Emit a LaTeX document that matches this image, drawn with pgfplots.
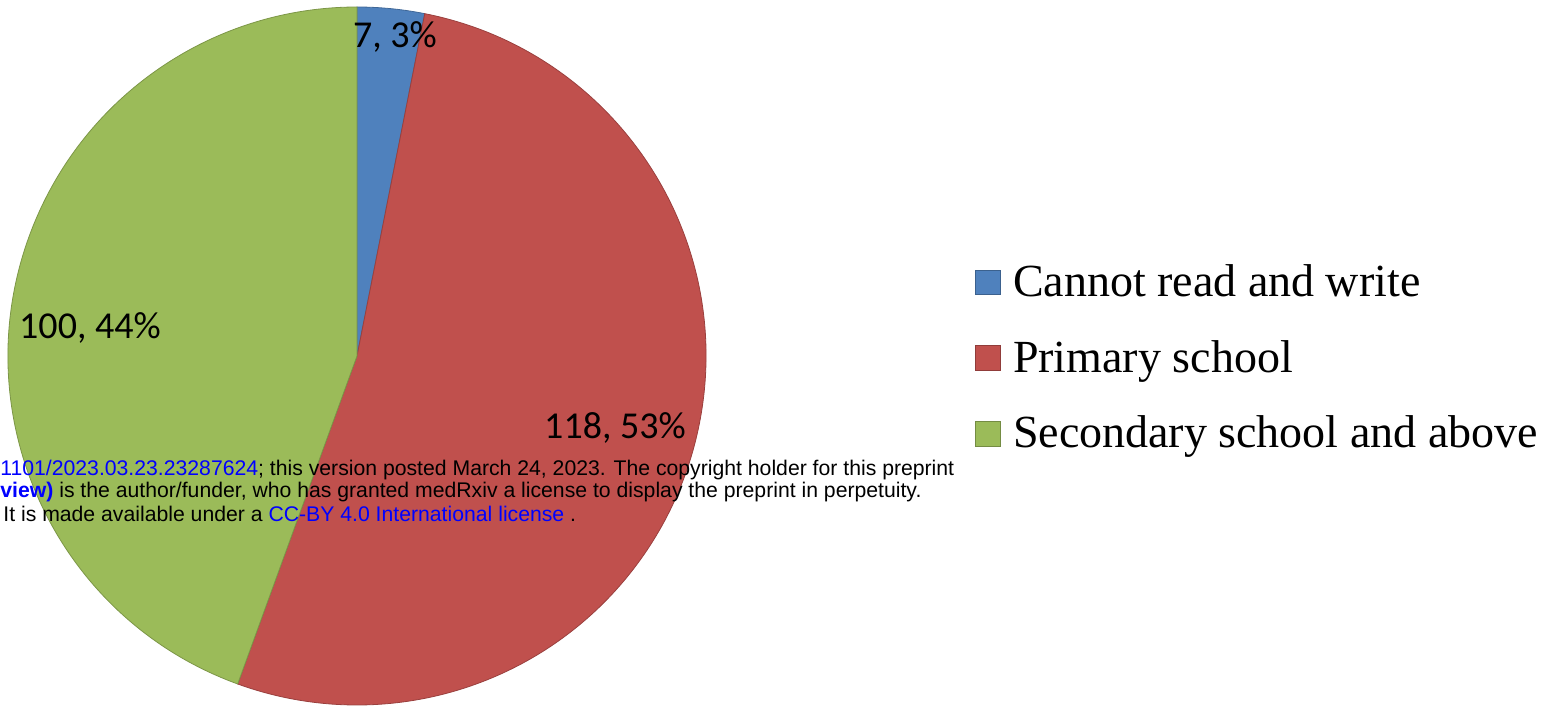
\documentclass[border=0pt]{standalone}
\usepackage{pgfplots}
\usepackage{pgfplotstable}
\pgfplotsset{compat=1.18}
\usepackage{fontspec}
\setmainfont{Liberation Serif}
\newfontfamily\calibri{Carlito}
\newfontfamily\arial{Liberation Sans}

\definecolor{cblue}{HTML}{4F81BD}
\definecolor{cred}{HTML}{C0504D}
\definecolor{cgreen}{HTML}{9BBB59}
\definecolor{wblue}{HTML}{0000FF}

% education level, counts
\pgfplotstableread{
level value
{Cannot read and write} 7
{Primary school} 118
{Secondary school and above} 100
}\edudata

\begin{document}
\begin{tikzpicture}
\pgfplotstablegetelem{0}{value}\of\edudata \let\va\pgfplotsretval
\pgfplotstablegetelem{1}{value}\of\edudata \let\vb\pgfplotsretval
\pgfplotstablegetelem{2}{value}\of\edudata \let\vc\pgfplotsretval
\pgfmathsetmacro\tot{\va+\vb+\vc}
\pgfmathsetmacro\angA{90-\va/\tot*360}
\pgfmathsetmacro\angB{\angA-\vb/\tot*360}
\def\R{174.5pt}
\begin{axis}[
    scale only axis,
    width=772.5pt, height=354pt,
    xmin=0, xmax=1545, ymin=0, ymax=708,
    hide axis, clip=false,
    legend style={at={(axis cs:975,350)}, anchor=west, draw=none, fill=none,
        font=\fontsize{23}{27}\selectfont, row sep=16.3pt,
        inner sep=0pt, cells={anchor=west},
        nodes={inner xsep=6pt}},
    legend cell align=left,
]
\addlegendimage{legend image code/.code={\filldraw[fill=cblue,draw=cblue!75!black,line width=0.4pt] (0pt,-6.2pt) rectangle (12.4pt,6.2pt);}}
\addlegendentry{Cannot read and write}
\addlegendimage{legend image code/.code={\filldraw[fill=cred,draw=cred!75!black,line width=0.4pt] (0pt,-6.2pt) rectangle (12.4pt,6.2pt);}}
\addlegendentry{Primary school}
\addlegendimage{legend image code/.code={\filldraw[fill=cgreen,draw=cgreen!75!black,line width=0.4pt] (0pt,-6.2pt) rectangle (12.4pt,6.2pt);}}
\addlegendentry{Secondary school and above}

\filldraw[fill=cblue, draw=cblue!80!black, line width=0.4pt]
  (axis cs:357,352) -- +(90:\R) arc[start angle=90, end angle=\angA, radius=\R] -- cycle;
\filldraw[fill=cred, draw=cred!80!black, line width=0.4pt]
  (axis cs:357,352) -- +(\angA:\R) arc[start angle=\angA, end angle=\angB, radius=\R] -- cycle;
\filldraw[fill=cgreen, draw=cgreen!80!black, line width=0.4pt]
  (axis cs:357,352) -- +(\angB:\R) arc[start angle=\angB, end angle=-270, radius=\R] -- cycle;

\node[font=\calibri\fontsize{19}{22}\selectfont] at (axis cs:395,671) {7, 3\%};
\node[font=\calibri\fontsize{19}{22}\selectfont] at (axis cs:615,280) {118, 53\%};
\node[font=\calibri\fontsize{19}{22}\selectfont] at (axis cs:90,380) {100, 44\%};

% preprint notice laid over the figure
\node[anchor=west, inner sep=0pt, font=\arial\fontsize{10.6}{12}\selectfont] at (axis cs:0,238)
  {\textcolor{wblue}{1101/2023.03.23.23287624}; this version posted March 24, 2023. The copyright holder for this preprint};
\node[anchor=west, inner sep=0pt, font=\arial\fontsize{10.6}{12}\selectfont] at (axis cs:0,216)
  {\textcolor{wblue}{\bfseries view)} is the author/funder, who has granted medRxiv a license to display the preprint in perpetuity.};
\node[anchor=west, inner sep=0pt, font=\arial\fontsize{10.6}{12}\selectfont] at (axis cs:3,194)
  {It is made available under a \textcolor{wblue}{CC-BY 4.0 International license} .};
\end{axis}
\pgfresetboundingbox
\path (current axis.south west) rectangle (current axis.north east);
\end{tikzpicture}
\end{document}
